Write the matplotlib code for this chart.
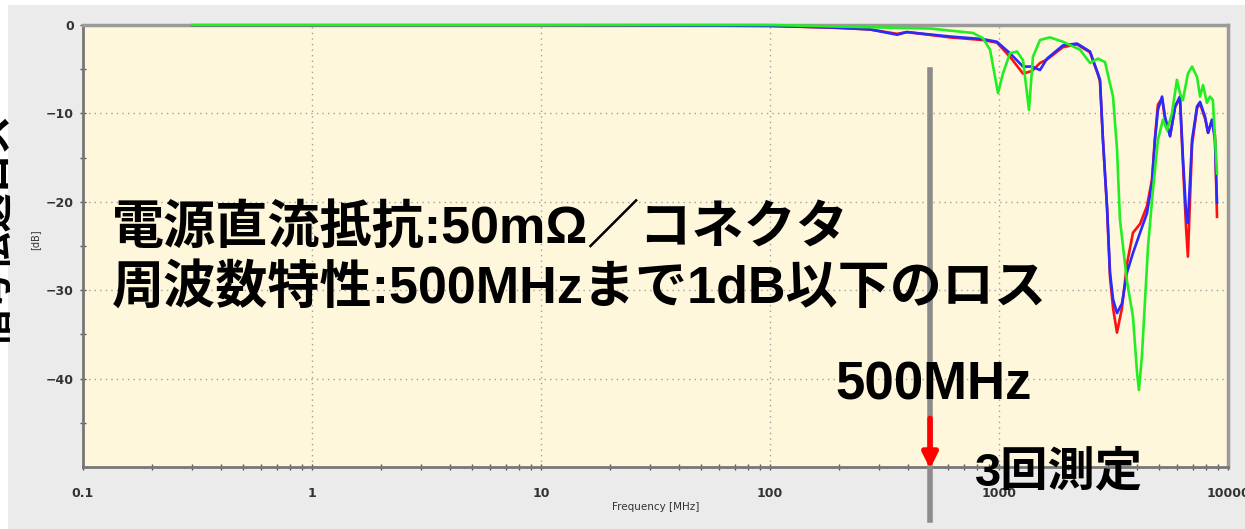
import matplotlib
matplotlib.use("Agg")
import matplotlib.pyplot as plt
from matplotlib.patches import Rectangle
from matplotlib.ticker import LogLocator, FixedLocator, NullFormatter

# measured insertion loss, three runs (frequency in MHz, loss in dB)
freq_red = [0.3, 10, 100, 183, 273, 359, 396, 611, 851, 980, 1117, 1273, 1394, 1510,
            1621, 1903, 2192, 2497, 2704, 2761, 2844, 2964, 3053, 3147, 3275, 3444,
            3622, 3846, 4130, 4426, 4656, 4797, 4943, 5152, 5309, 5585, 5875, 6166,
            6353, 6561, 6683, 6966, 7328, 7551, 7943, 8185, 8511, 8770, 8954]
loss_red = [0, 0, -0.1, -0.3, -0.5, -1.0, -0.8, -1.4, -1.7, -2.0, -3.6, -5.5, -5.2, -4.3,
            -3.9, -2.5, -2.2, -3.1, -5.6, -6.4, -13, -20.8, -28.5, -32, -34.8, -32,
            -27, -23.5, -22.5, -20.5, -17.5, -12.8, -9.0, -8.3, -10.6, -12.5, -9.3, -8.2,
            -15.5, -23, -26.2, -13.5, -9.4, -8.9, -10.6, -12.2, -10.8, -12.5, -21.7]

freq_blue = [0.3, 10, 100, 200, 273, 359, 396, 611, 851, 980, 1117, 1273, 1394, 1510,
             1621, 1903, 2192, 2497, 2704, 2761, 2844, 2964, 3053, 3147, 3275, 3444,
             3622, 3846, 4130, 4426, 4656, 4797, 4943, 5152, 5309, 5585, 5875, 6166,
             6353, 6561, 6683, 6966, 7328, 7551, 7943, 8185, 8511, 8770, 8954]
loss_blue = [0, 0, -0.1, -0.3, -0.5, -1.1, -0.8, -1.3, -1.6, -1.9, -3.2, -4.7, -4.7, -5.1,
             -3.8, -2.3, -2.1, -3.0, -5.5, -6.2, -13, -20.6, -28, -31, -32.6, -31.5,
             -28, -25.8, -23.5, -21.3, -17.9, -13, -9.6, -8.1, -10.4, -12.6, -9.2, -8.1,
             -14.9, -21.3, -22.4, -13, -9.2, -8.7, -10.4, -12.2, -10.7, -13, -20.1]

freq_green = [0.3, 100, 500, 770, 851, 914, 990, 1040, 1117, 1199, 1273, 1352, 1407,
              1510, 1670, 1903, 2259, 2497, 2704, 2904, 3147, 3275, 3374, 3622, 3846,
              4009, 4083, 4207, 4345, 4477, 4699, 4943, 5200, 5420, 5689, 5984, 6166,
              6353, 6683, 6966, 7328, 7551, 7780, 8091, 8337, 8590, 8954]
loss_green = [0, 0, -0.4, -0.9, -1.5, -2.8, -7.7, -5.5, -3.2, -3.0, -4.0, -9.6, -3.6,
              -1.7, -1.4, -1.9, -2.8, -4.3, -3.8, -4.2, -8.1, -14, -22, -29, -33,
              -39.4, -41.3, -37.5, -31, -25, -18.7, -13, -10.7, -11.9, -10, -6.2, -7.7,
              -8.5, -5.5, -4.7, -5.9, -8.1, -6.8, -8.8, -8.1, -8.5, -16.8]

x_ticks = [0.1, 1, 10, 100, 1000, 10000]
x_ticklabels = ["0.1", "1", "10", "100", "1000", "10000"]
y_ticks = [0, -10, -20, -30, -40]

W, H = 1245, 529
fig = plt.figure(figsize=(W / 100, H / 100), dpi=100, facecolor="white")
fig.patches.append(Rectangle((8 / W, 0), 1, 1 - 5 / H, transform=fig.transFigure,
                             facecolor="#ebebeb", edgecolor="none", zorder=-10))

ax = fig.add_axes([83 / W, 1 - 467 / H, (1228 - 83) / W, (467 - 25) / H])
ax.set_facecolor("#fff7dc")
ax.set_xscale("log")
ax.set_xlim(0.1, 10000)
ax.set_ylim(-50, 0)

ax.plot(freq_red, loss_red, color="#ff1010", lw=1.9, zorder=3)
ax.plot(freq_blue, loss_blue, color="#2a2aff", lw=1.9, zorder=4)
ax.plot(freq_green, loss_green, color="#22ee22", lw=1.9, zorder=5, clip_on=False)

ax.xaxis.set_major_locator(FixedLocator(x_ticks))
ax.set_xticklabels(x_ticklabels)
ax.xaxis.set_minor_locator(LogLocator(base=10, subs=range(2, 10)))
ax.xaxis.set_minor_formatter(NullFormatter())
ax.yaxis.set_major_locator(FixedLocator(y_ticks))
ax.yaxis.set_minor_locator(FixedLocator([-5, -15, -25, -35, -45]))
ax.tick_params(which="both", direction="inout", color="#555555", width=1)
ax.tick_params(which="major", length=5, labelsize=9, labelcolor="#333333")
ax.tick_params(axis="x", which="major", pad=12)
ax.tick_params(axis="y", which="major", pad=4)
ax.tick_params(which="minor", length=4)
for lab in ax.get_xticklabels() + ax.get_yticklabels():
    lab.set_fontweight("bold")

ax.grid(True, which="major", linestyle=(0, (1, 3)), color="#a0a0a0", lw=1)
for side in ["top", "right"]:
    ax.spines[side].set_color("#9a9a9a")
    ax.spines[side].set_linewidth(2.5)
for side in ["left", "bottom"]:
    ax.spines[side].set_color("#777777")
    ax.spines[side].set_linewidth(2)

ax.set_xlabel("Frequency [MHz]", fontsize=7.5, color="#333333", labelpad=1)
fig.text(35 / W, 1 - 240 / H, "[dB]", fontsize=7, rotation=90, color="#333333",
         ha="center", va="center")
fig.text(-4 / W, 1 - 230 / H, "信号伝送ロス", fontsize=28, rotation=90,
         family=["Noto Sans CJK JP"], fontweight="bold", ha="center", va="center")

# 500 MHz marker
ax.axvline(500, ymin=(467 - 520) / 442, ymax=(467 - 70) / 442, color="#8c8c8c",
           lw=4, clip_on=False, zorder=6)
ax.annotate("", xy=(500, -50.2), xytext=(500, -44.5),
            arrowprops=dict(arrowstyle="-|>,head_width=0.45,head_length=0.9",
                            color="#ff0000", lw=4, shrinkA=0, shrinkB=0),
            annotation_clip=False, zorder=7)

big = ["Liberation Sans", "Noto Sans CJK JP"]
fig.text(112 / W, 1 - 229 / H, "電源直流抵抗:50mΩ／コネクタ", fontsize=37.5,
         family=big, fontweight="bold", ha="left", va="center", zorder=8)
fig.text(112 / W, 1 - 289 / H, "周波数特性:500MHzまで1dB以下のロス", fontsize=37.5,
         family=big, fontweight="bold", ha="left", va="center", zorder=8)
fig.text(934 / W, 1 - 386 / H, "500MHz", fontsize=38, family=big,
         fontweight="bold", ha="center", va="center", zorder=8)
fig.text(975 / W, 1 - 473 / H, "3回測定", fontsize=34, family=big,
         fontweight="bold", ha="left", va="center", zorder=8)

fig.savefig("out.png", dpi=100, facecolor=fig.get_facecolor())
